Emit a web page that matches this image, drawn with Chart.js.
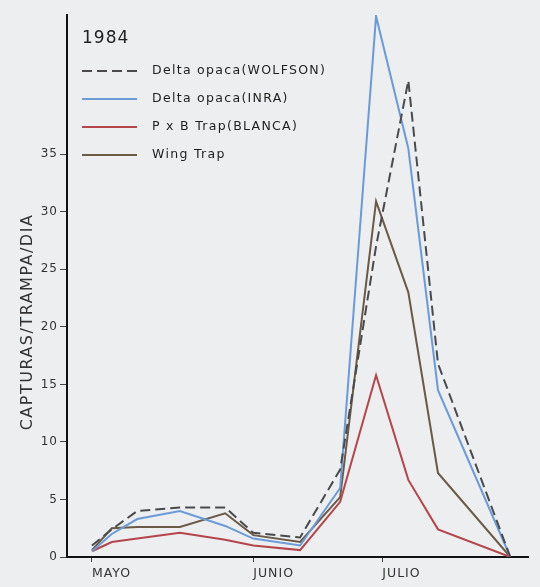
<!DOCTYPE html>
<html>
<head>
<meta charset="utf-8">
<script src="https://cdn.jsdelivr.net/npm/chart.js@4.4.1/dist/chart.umd.min.js"></script>
<style>
    body { margin: 0; background: #eceef0; }
    canvas { display: block; }
</style>
</head>
<body>
<canvas id="capturas" width="540" height="587"></canvas>
<script>
// dias desde el inicio de mayo (fechas de muestreo aproximadas)
const dias = [0, 3.8, 8.7, 16.9, 25.6, 31.0, 40.0, 47.7, 54.6, 60.8, 66.5, 80.4];
const wolfson = [1.0, 2.4, 4.0, 4.3, 4.3, 2.1, 1.7, 7.6, 27.0, 41.4, 16.8, 0];
const inra = [0.5, 2.0, 3.3, 4.0, 2.7, 1.6, 1.0, 6.0, 47.0, 35.5, 14.5, 0];
const blanca = [0.5, 1.3, 1.6, 2.1, 1.5, 1.0, 0.6, 4.8, 15.8, 6.7, 2.4, 0];
const wingTrap = [0.6, 2.5, 2.6, 2.6, 3.8, 1.9, 1.3, 5.2, 30.9, 23.0, 7.3, 0];
const meses = ['MAYO', 'JUNIO', 'JULIO'];
const mesesDia = [0, 31.0, 55.8];
const yTicks = [0, 5, 10, 15, 20, 25, 30, 35];

function puntos(valores) {
    return dias.map((d, i) => ({ x: d, y: valores[i] }));
}

const textos = {
    id: 'textos',
    beforeDraw(chart) {
        chart.ctx.letterSpacing = '1px';
    },
    afterDraw(chart) {
        const ctx = chart.ctx;
        ctx.save();
        ctx.fillStyle = '#222';
        ctx.letterSpacing = '1px';
        ctx.font = '17px "DejaVu Sans"';
        ctx.textBaseline = 'alphabetic';
        ctx.fillText('1984', 82, 43);

        const filas = [71, 99, 127, 155];
        ctx.font = '12.5px "DejaVu Sans"';
        ctx.letterSpacing = '1.3px';
        ctx.textBaseline = 'middle';
        chart.data.datasets.forEach((ds, i) => {
            const y = filas[i];
            ctx.beginPath();
            ctx.strokeStyle = ds.borderColor;
            ctx.lineWidth = 2;
            ctx.setLineDash(ds.borderDash || []);
            ctx.moveTo(82, y);
            ctx.lineTo(137, y);
            ctx.stroke();
            ctx.setLineDash([]);
            ctx.fillStyle = '#1e1e1e';
            ctx.fillText(ds.label, 152, y);
        });

        ctx.translate(28, 322);
        ctx.rotate(-Math.PI / 2);
        ctx.textAlign = 'center';
        ctx.textBaseline = 'middle';
        ctx.font = '16px "DejaVu Sans"';
        ctx.letterSpacing = '1.5px';
        ctx.fillStyle = '#333';
        ctx.fillText('CAPTURAS/TRAMPA/DIA', 0, 0);
        ctx.restore();
    }
};

const ctx = document.getElementById('capturas').getContext('2d');
const chart = new Chart(ctx, {
    type: 'line',
    data: {
        datasets: [{
            label: 'Delta opaca(WOLFSON)',
            data: puntos(wolfson),
            borderColor: '#4a4a4c',
            borderDash: [10, 5],
            borderWidth: 2
        }, {
            label: 'Delta opaca(INRA)',
            data: puntos(inra),
            borderColor: '#6a9bd8',
            borderWidth: 2
        }, {
            label: 'P x B Trap(BLANCA)',
            data: puntos(blanca),
            borderColor: '#b4454a',
            borderWidth: 2
        }, {
            label: 'Wing Trap',
            data: puntos(wingTrap),
            borderColor: '#6a5a46',
            borderWidth: 2
        }]
    },
    options: {
        responsive: false,
        animation: false,
        elements: {
            point: { radius: 0 },
            line: { tension: 0 }
        },
        layout: {
            padding: { top: 15, right: 12, left: 0, bottom: 0 }
        },
        plugins: {
            legend: { display: false },
            tooltip: { enabled: false }
        },
        scales: {
            x: {
                type: 'linear',
                min: -4.8,
                max: 83.8,
                afterBuildTicks: axis => {
                    axis.ticks = mesesDia.map(v => ({ value: v }));
                },
                afterFit: scale => {
                    scale.height = 30;
                },
                ticks: {
                    align: 'start',
                    autoSkip: false,
                    maxRotation: 0,
                    padding: 4,
                    color: '#333',
                    font: { family: 'DejaVu Sans', size: 12.5 },
                    callback: function(value, index) {
                        return meses[index];
                    }
                },
                grid: {
                    drawOnChartArea: false,
                    drawTicks: true,
                    tickLength: 5,
                    color: '#444'
                },
                border: { color: '#111', width: 2 }
            },
            y: {
                min: 0,
                max: 47.1,
                afterBuildTicks: axis => {
                    axis.ticks = yTicks.map(v => ({ value: v }));
                },
                afterFit: scale => {
                    scale.width = 67;
                },
                ticks: {
                    padding: 2,
                    color: '#333',
                    font: { family: 'DejaVu Sans', size: 12 }
                },
                grid: {
                    drawOnChartArea: false,
                    drawTicks: true,
                    tickLength: 7,
                    color: '#444'
                },
                border: { color: '#111', width: 2 }
            }
        }
    },
    plugins: [textos]
});
</script>
</body>
</html>
